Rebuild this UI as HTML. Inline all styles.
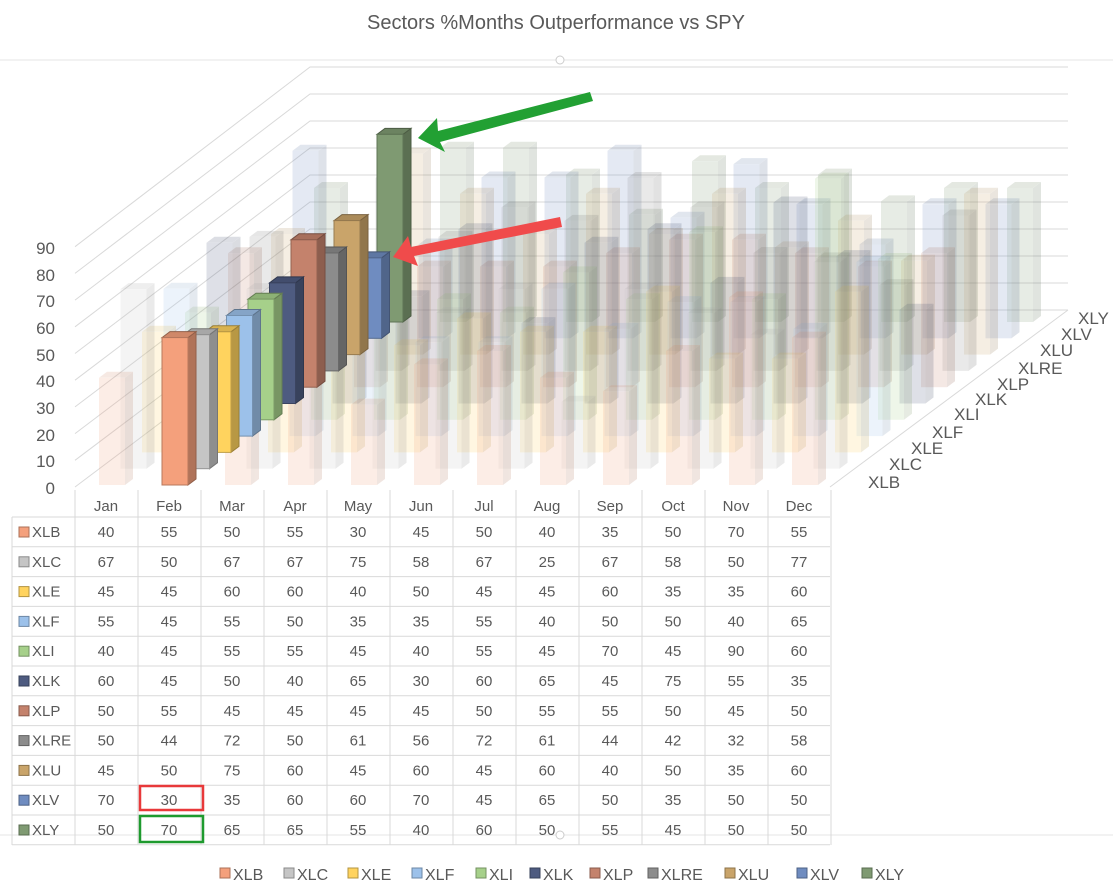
<!DOCTYPE html>
<html><head><meta charset="utf-8"><style>
body{margin:0;background:#fff;}
svg{display:block;font-family:"Liberation Sans",sans-serif;}
</style></head><body>
<svg id="s" width="1113" height="894" viewBox="0 0 1113 894">
<line x1="0" y1="60" x2="1113" y2="60" stroke="#e4e4e4"/>
<circle cx="560" cy="60" r="4" fill="#fff" stroke="#ccc"/>
<line x1="0" y1="835" x2="1113" y2="835" stroke="#e4e4e4"/>
<circle cx="560" cy="835" r="4" fill="#fff" stroke="#ccc"/>
<text x="556" y="29" font-size="20" fill="#595959" text-anchor="middle">Sectors %Months Outperformance vs SPY</text>
<g id="grid" stroke="#d9d9d9" stroke-width="1" fill="none"></g>
<g id="bars"></g>
<g font-size="17" fill="#595959" text-anchor="end">
<text x="55" y="494">0</text><text x="55" y="467">10</text><text x="55" y="441">20</text><text x="55" y="414">30</text><text x="55" y="387">40</text><text x="55" y="361">50</text><text x="55" y="334">60</text><text x="55" y="307">70</text><text x="55" y="281">80</text><text x="55" y="254">90</text>
</g>
<g font-size="17" fill="#595959">
<text x="868" y="488">XLB</text><text x="889" y="470">XLC</text><text x="911" y="454">XLE</text><text x="932" y="438">XLF</text><text x="954" y="420">XLI</text><text x="975" y="405">XLK</text><text x="997" y="390">XLP</text><text x="1018" y="374">XLRE</text><text x="1040" y="356">XLU</text><text x="1061" y="340">XLV</text><text x="1078" y="324">XLY</text>
</g>
<g id="tbl" stroke="#d9d9d9" stroke-width="1"></g>
<g id="ttxt" font-size="15" fill="#595959" text-anchor="middle">
<text x="106" y="511">Jan</text><text x="169" y="511">Feb</text><text x="232" y="511">Mar</text><text x="295" y="511">Apr</text><text x="358" y="511">May</text><text x="421" y="511">Jun</text><text x="484" y="511">Jul</text><text x="547" y="511">Aug</text><text x="610" y="511">Sep</text><text x="673" y="511">Oct</text><text x="736" y="511">Nov</text><text x="799" y="511">Dec</text>
</g>
<rect x="140" y="786" width="63" height="24" fill="none" stroke="#e8393a" stroke-width="2.5"/>
<rect x="140" y="816" width="63" height="26" fill="none" stroke="#1e9a2e" stroke-width="2.5"/>
<g id="leg" font-size="16" fill="#595959"></g>
<polygon points="590,92 593,101 440,142 445,152 418,138 437,118 438,131" fill="#22a033"/>
<polygon points="560,217 562,227 414,256 418,266 393,257 408,236 411,247" fill="#f04b4b"/>
</svg>
<script>
const NS="http://www.w3.org/2000/svg";
function el(p,t,a,txt){const e=document.createElementNS(NS,t);for(const k in a)e.setAttribute(k,a[k]);if(txt!=null)e.textContent=txt;p.appendChild(e);return e;}
const names=["XLB","XLC","XLE","XLF","XLI","XLK","XLP","XLRE","XLU","XLV","XLY"];
const cols=["#f4a07c","#c5c5c5","#ffd35e","#9cc1ea","#a6d08a","#4e5b80","#c4826c","#8c8c8c","#c9a46a","#6f8cc0","#7f9a72"];
const data=[[40,55,50,55,30,45,50,40,35,50,70,55],[67,50,67,67,75,58,67,25,67,58,50,77],[45,45,60,60,40,50,45,45,60,35,35,60],[55,45,55,50,35,35,55,40,50,50,40,65],[40,45,55,55,45,40,55,45,70,45,90,60],[60,45,50,40,65,30,60,65,45,75,55,35],[50,55,45,45,45,45,50,55,55,50,45,50],[50,44,72,50,61,56,72,61,44,42,32,58],[45,50,75,60,45,60,45,60,40,50,35,60],[70,30,35,60,60,70,45,65,50,35,50,50],[50,70,65,65,55,40,60,50,55,45,50,50]];
const g=document.getElementById("grid");
for(let i=0;i<10;i++){const yf=487-i*26.7,yb=310-i*27;
 el(g,"polyline",{points:`75,${yf} 310,${yb} 1068,${yb}`});}
el(g,"line",{x1:1068,y1:310,x2:830,y2:487});
function shade(c,f){const n=parseInt(c.slice(1),16);let r=n>>16,gg=(n>>8)&255,b=n&255;r=Math.round(r*f);gg=Math.round(gg*f);b=Math.round(b*f);return `rgb(${Math.min(255,r)},${Math.min(255,gg)},${Math.min(255,b)})`;}
const B=document.getElementById("bars");
function bar(k,m,op){const v=data[k][m];const x0=75+m*63+24+k*21.5;const y0=485-k*16.3;const h=v*2.68;const w=26,dx=8,dy=-6;
 const gp=el(B,"g",{opacity:op});
 const c=cols[k];const sw=op<1?0:1;
 el(gp,"polygon",{points:`${x0+w},${y0} ${x0+w+dx},${y0+dy} ${x0+w+dx},${y0-h+dy} ${x0+w},${y0-h}`,fill:shade(c,0.72),stroke:shade(c,0.6),"stroke-width":sw});
 el(gp,"polygon",{points:`${x0},${y0-h} ${x0+dx},${y0-h+dy} ${x0+w+dx},${y0-h+dy} ${x0+w},${y0-h}`,fill:shade(c,0.85),stroke:shade(c,0.6),"stroke-width":sw});
 el(gp,"rect",{x:x0,y:y0-h,width:w,height:h,fill:c,stroke:shade(c,0.75),"stroke-width":sw});}
for(let k=10;k>=0;k--)for(let m=11;m>=0;m--)if(m!==1)bar(k,m,0.18);
for(let k=10;k>=0;k--)bar(k,1,1);
const T=document.getElementById("tbl"),TT=document.getElementById("ttxt");
for(let i=0;i<=12;i++){const x=75+i*63;el(T,"line",{x1:x,y1:490,x2:x,y2:845});}
el(T,"line",{x1:12,y1:517,x2:12,y2:845});
for(let r=0;r<=11;r++){const y=517+r*29.8;el(T,"line",{x1:12,y1:y,x2:830,y2:y});}
for(let k=0;k<11;k++){const yc=532+k*29.8;
 el(T,"rect",{x:19,y:yc-5,width:10,height:10,fill:cols[k],stroke:shade(cols[k],0.7)});
 el(TT,"text",{x:32,y:yc+5,"text-anchor":"start"},names[k]);
 for(let m=0;m<12;m++)el(TT,"text",{x:106+m*63,y:yc+5},data[k][m]);}
const L=document.getElementById("leg");const lx=[220,284,348,412,476,530,590,648,725,797,862];
for(let k=0;k<11;k++){el(L,"rect",{x:lx[k],y:868,width:10,height:10,fill:cols[k],stroke:shade(cols[k],0.7)});el(L,"text",{x:lx[k]+13,y:880},names[k]);}
</script>
</body></html>
